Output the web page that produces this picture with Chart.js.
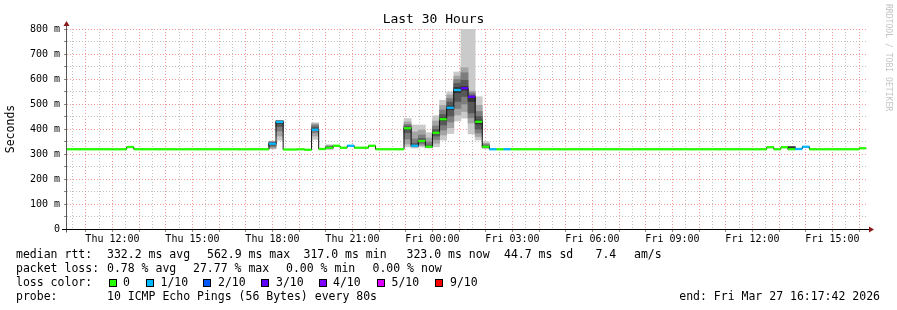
<!DOCTYPE html>
<html><head><meta charset="utf-8">
<script src="https://cdn.jsdelivr.net/npm/chart.js@4/dist/chart.umd.min.js"></script>
<style>
html,body{margin:0;padding:0;background:#fff;}
#wrap{position:relative;width:897px;height:310px;overflow:hidden;font-family:'DejaVu Sans Mono',monospace;}
canvas{position:absolute;left:0;top:0;}
.t{position:absolute;font-size:11.5px;line-height:14px;white-space:pre;color:#000;}
.sq{position:absolute;width:8px;height:8px;box-sizing:border-box;border:1px solid #000;}
#rrd{position:absolute;left:884px;top:4px;writing-mode:vertical-rl;font-size:8.1px;line-height:9px;color:#c4c4c4;white-space:pre;}
</style></head><body>
<div id="wrap">
<canvas id="c" width="897" height="310"></canvas>
<div id="rrd">RRDTOOL / TOBI OETIKER</div>
<div class="t" style="left:16px;top:247px">median rtt:</div>
<div class="t" style="left:107px;top:247px">332.2 ms avg</div>
<div class="t" style="left:207px;top:247px">562.9 ms max</div>
<div class="t" style="left:303.5px;top:247px">317.0 ms min</div>
<div class="t" style="left:406.5px;top:247px">323.0 ms now</div>
<div class="t" style="left:504px;top:247px">44.7 ms sd</div>
<div class="t" style="left:595.5px;top:247px">7.4</div>
<div class="t" style="left:634px;top:247px">am/s</div>
<div class="t" style="left:16px;top:261px">packet loss:</div>
<div class="t" style="left:107px;top:261px">0.78 % avg</div>
<div class="t" style="left:193px;top:261px">27.77 % max</div>
<div class="t" style="left:286px;top:261px">0.00 % min</div>
<div class="t" style="left:372.5px;top:261px">0.00 % now</div>
<div class="t" style="left:16px;top:275px">loss color:</div>
<div id="losslegend"></div>
<div class="t" style="left:16px;top:289px">probe:</div>
<div class="t" style="left:107px;top:289px">10 ICMP Echo Pings (56 Bytes) every 80s</div>
<div class="t" style="right:17px;top:289px">end: Fri Mar 27 16:17:42 2026</div>
</div>
<script>
// ---- time base (hours since Thu 00:00) ----
const START_H = 10 + 17/60 + 42/3600;   // Thu 10:17:42
const SPAN_H = 30;
const STEP_H = 16/60;                    // 16 minute consolidation step
const FIRST_STEP = 38;                   // index of first step (k*16min)

// ---- median rtt per step (ms) ----
const medianMs = [
  319,319,319,319,319,319,319,319,319,
  328,
  319,319,319,319,319,319,319,319,319,319,319,319,319,319,319,319,319,319,319,
  341,428,318,318,319,317,397,320,325,333,325,333,325,325,333,
  319,319,319,319,
  403,333,352,329,385,439,485,556,562.9,529,429,329,
  319,319,319,319,319,319,319,319,319,319,319,319,319,
  319,319,319,319,319,319,319,319,319,319,319,319,319,
  319,319,319,319,319,319,319,319,319,319,319,319,319,
  327,319,327,319,320,329,
  319,319,319,319,319,319,319,
  323
];
// ---- lost pings (out of 10) per step ----
const lossTenths = [
  0,0,0,0,0,0,0,0,0,0,0,0,0,0,0,0,0,0,0,0,0,0,0,0,0,0,0,0,0,
  1,1,0,0,0,0,1,0,0,0,0,1,0,0,0,
  0,0,0,0,
  0,1,0,0,0,0,1,1,3,3,0,0,
  1,0,1,
  0,0,0,0,0,0,0,0,0,0,0,0,0,0,0,0,0,0,0,0,0,0,0,0,0,0,0,0,0,0,0,0,0,0,0,0,
  0,0,0,0,1,1,
  0,0,0,0,0,0,0,0
];
// ---- smoke: sorted ping rtts (ms) for the steps that show spread ----
const smokeSteps = [67,68,73,75,86,87,88,89,90,91,92,93,94,95,96,97,140];
const smokePings = [
  [320,323,328,334,339,343,346,348,350,352],
  [355,372,392,410,422,430,432,433,434,435],
  [358,372,385,393,396,400,408,416,421,425],
  [319,320,322,324,325,327,329,331,334,337],
  [328,340,360,385,400,406,412,418,428,442],
  [324,328,330,332,333,334,342,360,388,416],
  [328,334,340,347,351,354,362,376,396,416],
  [324,326,327,328,329,330,336,348,364,385],
  [329,343,358,372,383,388,398,412,432,453],
  [356,376,396,416,434,444,458,476,494,515],
  [382,405,428,452,478,492,508,522,536,548],
  [432,456,482,510,545,566,582,598,612,628],
  [443,470,500,530,555,570,595,625,645,900],
  [380,424,445,464,510,530,536,545,552,900],
  [356,370,384,400,420,436,450,470,495,529],
  [322,324,326,327,328,330,333,338,343,349],
  [319,319,320,320,320,328,329,329,330,330]
];
// ---- loss legend ----
const lossLabels = ['0','1/10','2/10','3/10','4/10','5/10','9/10'];
const lossLevels = [0,1,2,3,4,5,9];
const lossColorList = ['#26ff00','#00b8ff','#0059ff','#5e00ff','#7e00ff','#dd00ff','#ff0000'];
// ---- axis ticks ----
const xLabelHours = [12,15,18,21,24,27,30,33,36,39];
const xLabels = ['Thu 12:00','Thu 15:00','Thu 18:00','Thu 21:00','Fri 00:00','Fri 03:00','Fri 06:00','Fri 09:00','Fri 12:00','Fri 15:00'];
const yLabelValues = [0,100,200,300,400,500,600,700,800];
const yLabels = ['0','100 m','200 m','300 m','400 m','500 m','600 m','700 m','800 m'];

const smokeShades = ['#cacaca','#a4a4a4','#7e7e7e','#585858','#323232'];
const MONO = "'DejaVu Sans Mono', monospace";

function lossColor(n){ return lossColorList[lossLevels.indexOf(n)]; }

// loss legend HTML
(function(){
  const sqLeft = [108.5,146,203,261,319,376.5,435];
  const txLeft = [123,160.5,218,276,333,391.5,450];
  const host = document.getElementById('losslegend');
  lossLabels.forEach((lab,i)=>{
    const s = document.createElement('div'); s.className='sq';
    s.style.left = sqLeft[i]+'px'; s.style.top='279px'; s.style.background = lossColorList[i];
    host.appendChild(s);
    const t = document.createElement('div'); t.className='t';
    t.style.left = txLeft[i]+'px'; t.style.top='275px'; t.textContent = lab;
    host.appendChild(t);
  });
})();

// datasets
const coloredData = [];
medianMs.forEach((m,i)=>{
  const k = FIRST_STEP + i;
  coloredData.push({x:k*STEP_H,y:m},{x:(k+1)*STEP_H,y:m},{x:(k+1)*STEP_H,y:null});
});
const blackData = [{x:FIRST_STEP*STEP_H,y:medianMs[0]}];
medianMs.forEach((m,i)=>blackData.push({x:(FIRST_STEP+i+1)*STEP_H,y:m}));

const datasets = [
  {type:'line', data:coloredData, borderWidth:2.3, borderColor:'#26ff00', borderCapStyle:'butt',
   pointRadius:0, spanGaps:false, order:0,
   segment:{borderColor:c=>lossColor(lossTenths[Math.floor(c.p0DataIndex/3)])}},
  {type:'line', data:blackData, stepped:'after', borderWidth:1, borderColor:'#111', pointRadius:0, order:1}
];
smokeShades.forEach((shade,b)=>{
  datasets.push({type:'bar', order:6-b, grouped:false, barPercentage:1, categoryPercentage:1,
    backgroundColor:shade, borderWidth:0,
    data: smokeSteps.map((k,j)=>({x:(k+0.5)*STEP_H, y:[smokePings[j][b], smokePings[j][9-b]]}))});
});

const xTicks = []; for (let h = Math.ceil(START_H*2)/2; h <= START_H+SPAN_H; h += 0.5) xTicks.push(h);
const yTicks = []; for (let v = 0; v <= 800; v += 50) yTicks.push(v);
const isInt = (v,step) => Math.abs(v/step - Math.round(v/step)) < 1e-6;
const MAJOR = 'rgba(240,120,120,0.75)';
const MINOR = 'rgba(170,170,170,0.75)';

const axisPlugin = {
  id:'rrdaxes',
  afterDatasetsDraw(chart){
    const {ctx, chartArea:a} = chart;
    const x0 = Math.round(a.left)-0.5, y0 = Math.round(a.bottom)+0.5;
    ctx.save();
    ctx.lineWidth = 1;
    ctx.strokeStyle = '#555';
    ctx.beginPath(); ctx.moveTo(x0, a.top-6); ctx.lineTo(x0, y0+3); ctx.stroke();
    ctx.strokeStyle = '#000';
    ctx.beginPath(); ctx.moveTo(a.left-5, y0); ctx.lineTo(a.right+2, y0); ctx.stroke();
    ctx.fillStyle = '#8b1a1a';
    ctx.beginPath(); ctx.moveTo(x0-3, a.top-3); ctx.lineTo(x0+3, a.top-3); ctx.lineTo(x0, a.top-8); ctx.closePath(); ctx.fill();
    ctx.beginPath(); ctx.moveTo(a.right+2, y0-3); ctx.lineTo(a.right+2, y0+3); ctx.lineTo(a.right+7, y0); ctx.closePath(); ctx.fill();
    ctx.restore();
  }
};

new Chart(document.getElementById('c'), {
  type:'line',
  data:{datasets},
  options:{
    responsive:false, animation:false, events:[],
    layout:{padding:{left:0,right:30,top:0,bottom:0}},
    plugins:{
      legend:{display:false}, tooltip:{enabled:false},
      title:{display:true, text:'Last 30 Hours', color:'#000',
        font:{family:MONO,size:13,weight:'normal'}, padding:{top:11.5,bottom:1.9}}
    },
    scales:{
      x:{type:'linear', min:START_H, max:START_H+SPAN_H, offset:false,
        afterBuildTicks(s){ s.ticks = xTicks.map(v=>({value:v})); },
        afterFit(s){ s.height = 81; },
        grid:{offset:false, lineWidth:1, drawTicks:true, tickLength:3,
          color:c=> isInt(c.tick.value,1) ? MAJOR : MINOR,
          tickColor:c=> isInt(c.tick.value,1) ? '#888' : 'rgba(0,0,0,0)', tickBorderDash:[]},
        border:{display:false, dash:[1,2]},
        ticks:{autoSkip:false, maxRotation:0, minRotation:0, padding:1, color:'#000',
          font:{family:MONO,size:10},
          callback:v=>{ const i = xLabelHours.findIndex(h=>Math.abs(h-v)<1e-6); return i<0?'':xLabels[i]; }}
      },
      y:{min:0, max:800,
        afterBuildTicks(s){ s.ticks = yTicks.map(v=>({value:v})); },
        afterFit(s){ s.width = 67; },
        title:{display:true, text:'Seconds', color:'#000', font:{family:MONO,size:11.5}, padding:{top:4,bottom:0}},
        grid:{lineWidth:1, drawTicks:true, tickLength:3,
          color:c=> isInt(c.tick.value,100) ? MAJOR : MINOR,
          tickColor:'#888', tickBorderDash:[]},
        border:{display:false, dash:[1,2]},
        ticks:{autoSkip:false, padding:4, color:'#000', font:{family:MONO,size:10},
          callback:v=>{ const i = yLabelValues.indexOf(v); return i<0?'':yLabels[i]; }}
      }
    }
  },
  plugins:[axisPlugin]
});
</script>
</body></html>
